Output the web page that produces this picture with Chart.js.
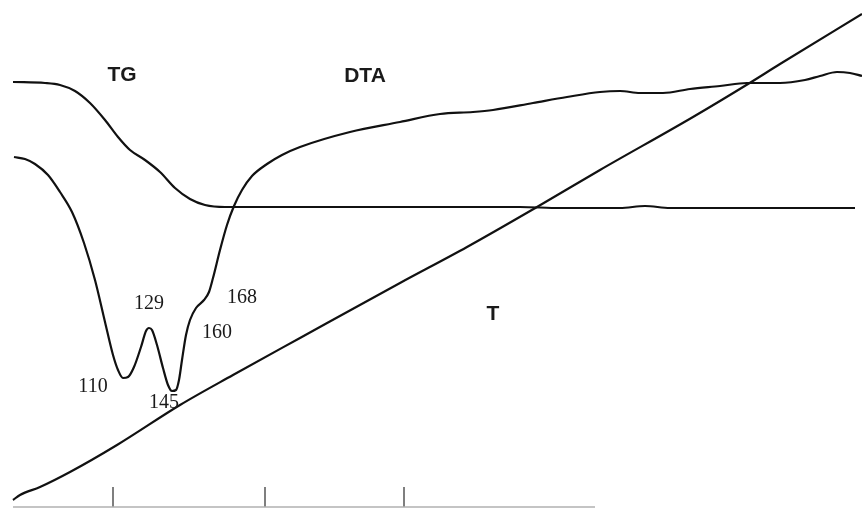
<!DOCTYPE html>
<html>
<head>
<meta charset="utf-8">
<script src="https://cdn.jsdelivr.net/npm/chart.js@4/dist/chart.umd.min.js"></script>
<style>
  html, body { margin: 0; padding: 0; background: #fff; }
  #wrap { width: 862px; height: 508px; position: relative; }
</style>
</head>
<body>
<div id="wrap"><canvas id="c"></canvas></div>
<script>
// Abstract plot units (the original has no numeric axes): x = run progression, y = signal (downward positive)
const tgX  = [13, 45, 60, 75, 90, 105, 118, 130, 145, 160, 175, 190, 205, 225, 300, 520, 560, 620, 645, 670, 855];
const tgY  = [82, 83, 85, 91, 103, 120, 137, 150, 160, 172, 188, 199, 205, 207, 207, 207, 208, 208, 206, 208, 208];

const dtaX = [14, 25, 35, 48, 60, 72, 84, 95, 105, 113, 118, 123, 128, 134, 141, 146, 149, 152, 157, 163, 168, 172, 176, 179, 182, 186, 190, 196, 204, 209, 213, 220, 227, 234, 242, 252, 267, 282, 300, 350, 400, 440, 473, 493, 533, 567, 600, 620, 640, 663, 690, 720, 747, 780, 805, 820, 837, 850, 862];
const dtaY = [157, 159, 164, 175, 192, 212, 243, 280, 322, 355, 370, 378, 377, 367, 347, 331, 328, 330, 345, 368, 385, 391, 390, 380, 360, 335, 320, 308, 300, 292, 278, 250, 225, 206, 190, 176, 164, 155, 147, 132, 122, 114, 112, 110, 103, 97, 92, 91, 93, 93, 89, 86, 83, 83, 80, 76, 72, 73, 76];

const tX   = [13, 20, 40, 70, 117, 180, 233, 300, 400, 467, 537, 600, 693, 748, 780, 862];
const tY   = [500, 495, 487, 472, 445, 405, 375, 338, 283, 247, 207, 170, 117, 84, 64, 14];

const baseX = [13, 595];
const baseY = [507, 507];
const tickPositions = [113, 265, 404];
const tickTop = 487, tickBottom = 507;

const labelTexts  = ['TG', 'DTA', 'T', '110', '129', '145', '160', '168'];
const labelX      = [122, 365, 493, 93, 149, 164, 217, 242];
const labelY      = [75, 76, 314, 387, 304, 403, 333, 298];
const labelSerif  = [false, false, false, true, true, true, true, true];

const zip = (xs, ys) => xs.map((x, i) => ({ x: x, y: ys[i] }));

const curveStyle = {
  borderColor: '#111',
  borderWidth: 2.2,
  pointRadius: 0,
  cubicInterpolationMode: 'monotone',
  fill: false,
  clip: false
};

const datasets = [
  Object.assign({ label: 'TG',  data: zip(tgX, tgY) }, curveStyle),
  Object.assign({ label: 'DTA', data: zip(dtaX, dtaY) }, curveStyle),
  Object.assign({ label: 'T',   data: zip(tX, tY) }, curveStyle),
  { label: 'base', data: zip(baseX, baseY), borderColor: '#b0b0b0', borderWidth: 1.5, pointRadius: 0, tension: 0, clip: false }
];
tickPositions.forEach(p => {
  datasets.push({ label: 'tick', data: [{ x: p, y: tickTop }, { x: p, y: tickBottom }],
    borderColor: '#555', borderWidth: 1.5, pointRadius: 0, tension: 0, clip: false });
});

const labelPlugin = {
  id: 'curveLabels',
  afterDatasetsDraw(chart) {
    const ctx = chart.ctx;
    const xs = chart.scales.x, ys = chart.scales.y;
    ctx.save();
    ctx.fillStyle = '#1a1a1a';
    ctx.textAlign = 'center';
    ctx.textBaseline = 'middle';
    labelTexts.forEach((t, i) => {
      ctx.font = labelSerif[i] ? '20px "Liberation Serif", "DejaVu Serif", serif'
                               : 'bold 21px "Liberation Sans", Arial, sans-serif';
      ctx.fillText(t, xs.getPixelForValue(labelX[i]), ys.getPixelForValue(labelY[i]));
    });
    ctx.restore();
  }
};

new Chart(document.getElementById('c'), {
  type: 'line',
  data: { datasets: datasets },
  options: {
    responsive: true,
    maintainAspectRatio: false,
    animation: false,
    layout: { padding: 0 },
    plugins: { legend: { display: false }, tooltip: { enabled: false } },
    scales: {
      x: { type: 'linear', min: 0, max: 862, display: false },
      y: { type: 'linear', min: 0, max: 508, reverse: true, display: false }
    }
  },
  plugins: [labelPlugin]
});
</script>
</body>
</html>
